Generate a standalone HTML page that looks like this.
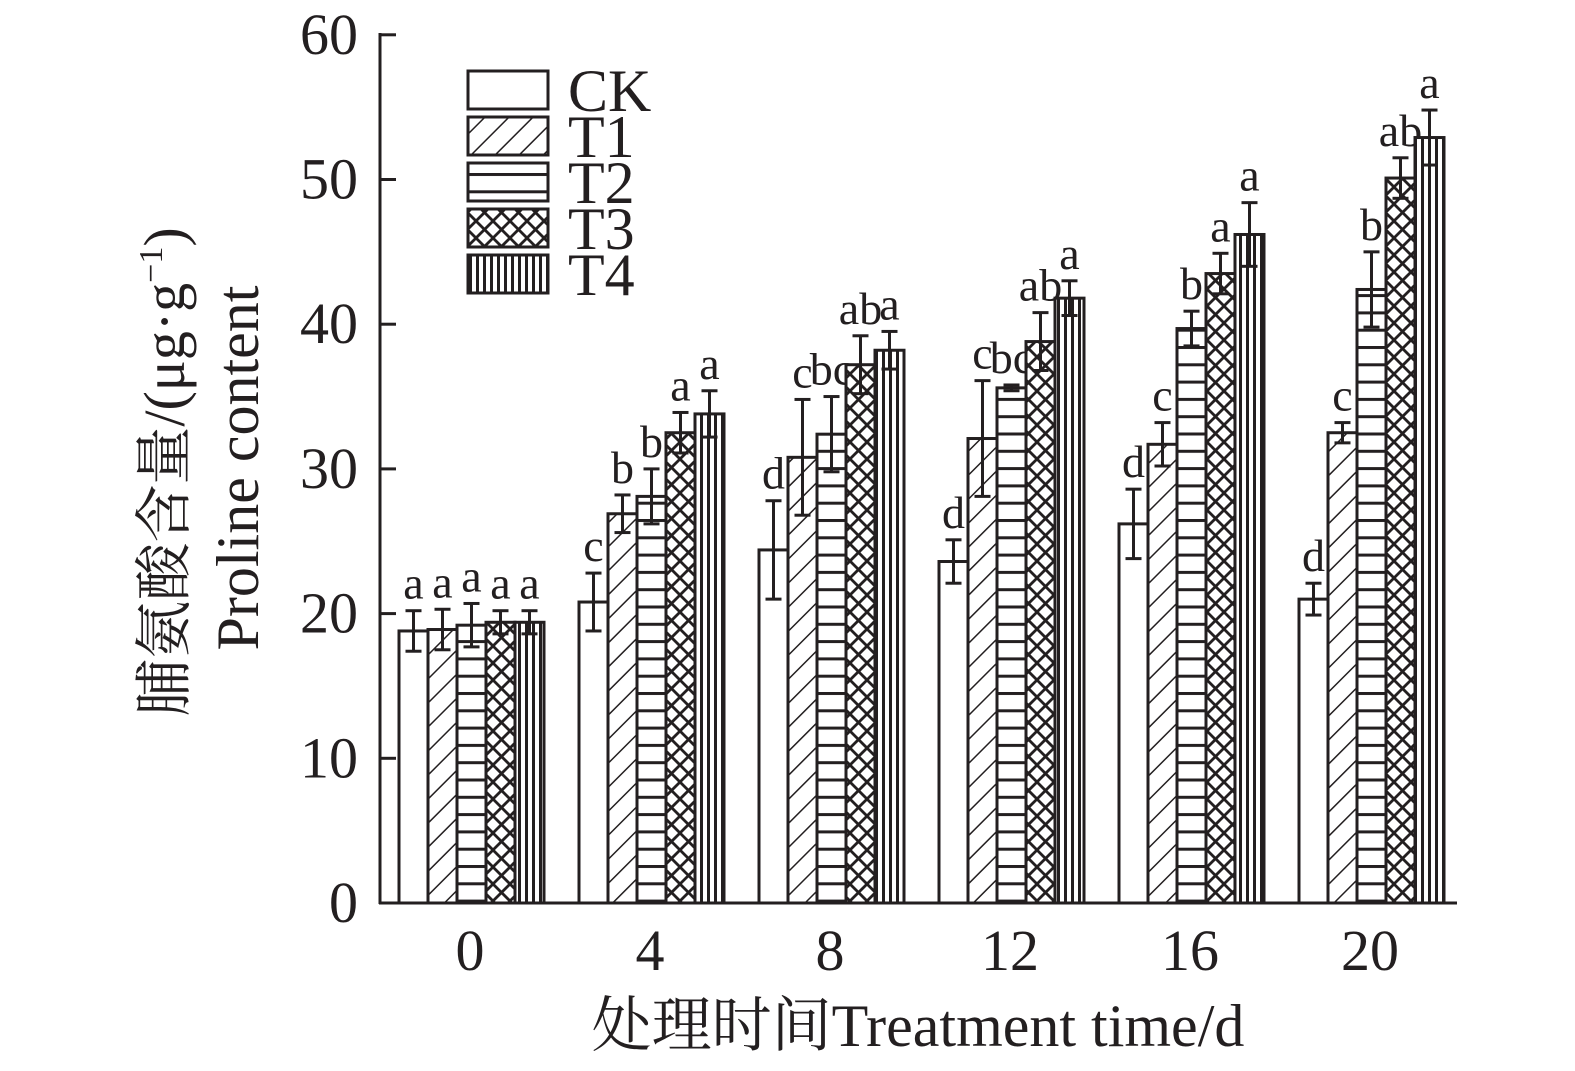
<!DOCTYPE html>
<html><head><meta charset="utf-8"><style>
html,body{margin:0;padding:0;background:#fff;}
svg{display:block;}
text{font-family:"Liberation Serif","Noto Serif CJK SC",serif;fill:#231f20;}
</style></head><body>
<svg id="s" width="1575" height="1071" viewBox="0 0 1575 1071" xmlns="http://www.w3.org/2000/svg">
<defs>
<pattern id="p1" patternUnits="userSpaceOnUse" width="17" height="17" patternTransform="rotate(45)"><line x1="0" y1="0" x2="0" y2="17" stroke="#231f20" stroke-width="3"/></pattern>
<pattern id="p2" patternUnits="userSpaceOnUse" width="10" height="17.3"><line x1="0" y1="1.5" x2="10" y2="1.5" stroke="#231f20" stroke-width="3"/></pattern>
<pattern id="p3" patternUnits="userSpaceOnUse" width="17" height="17"><line x1="0" y1="0" x2="17" y2="17" stroke="#231f20" stroke-width="2.8"/><line x1="17" y1="0" x2="0" y2="17" stroke="#231f20" stroke-width="2.8"/></pattern>
<pattern id="p4" patternUnits="userSpaceOnUse" width="7" height="10"><line x1="1.5" y1="0" x2="1.5" y2="10" stroke="#231f20" stroke-width="3"/></pattern>
</defs>
<g id="g"></g>
<text x="184" y="472" font-size="58" text-anchor="middle" transform="rotate(-90 184 472)">脯氨酸含量/(μg·g<tspan dy="-22" font-size="34">−1</tspan><tspan dy="22">)</tspan></text>
<text x="258" y="468" font-size="60" text-anchor="middle" transform="rotate(-90 258 468)">Proline content</text>
<text x="918" y="1046" font-size="60" text-anchor="middle">处理时间Treatment time/d</text>
</svg>
<script>
var g=document.getElementById('g'),h='';
function Y(v){return 903-v*14.47;}
var st='stroke="#231f20"';
h+='<line x1="380" y1="33" x2="380" y2="904" '+st+' stroke-width="3"/>';
h+='<line x1="379" y1="903" x2="1457" y2="903" '+st+' stroke-width="3"/>';
for(var i=0;i<=6;i++){var y=Y(i*10);h+='<line x1="380" y1="'+y+'" x2="396" y2="'+y+'" '+st+' stroke-width="3"/>';
h+='<text x="358" y="'+(y+19)+'" font-size="58" text-anchor="end">'+(i*10)+'</text>';}
var labs=['0','4','8','12','16','20'];
var data=[
[[18.8,1.4,'a'],[18.9,1.4,'a'],[19.2,1.5,'a'],[19.4,0.8,'a'],[19.4,0.8,'a']],
[[20.8,2,'c'],[26.9,1.3,'b'],[28.1,1.9,'b'],[32.5,1.4,'a'],[33.8,1.6,'a']],
[[24.4,3.4,'d'],[30.8,4,'c'],[32.4,2.6,'bc'],[37.2,2,'ab'],[38.2,1.3,'a']],
[[23.6,1.5,'d'],[32.1,4,'c'],[35.6,0.2,'bc'],[38.8,2,'ab'],[41.8,1.2,'a']],
[[26.2,2.4,'d'],[31.7,1.5,'c'],[39.7,1.2,'b'],[43.5,1.4,'a'],[46.2,2.2,'a']],
[[21,1.1,'d'],[32.5,0.7,'c'],[42.4,2.6,'b'],[50.1,1.4,'ab'],[52.9,1.9,'a']]];
var fills=['#fff','url(#p1)','url(#p2)','url(#p3)','url(#p4)'];
for(var k=0;k<6;k++){var x0=399+k*180;
 h+='<text x="'+(x0+71)+'" y="970" font-size="58" text-anchor="middle">'+labs[k]+'</text>';
 for(var j=0;j<5;j++){var d=data[k][j],x=x0+j*29,y=Y(d[0]);
  h+='<rect x="'+x+'" y="'+y+'" width="29" height="'+(903-y)+'" fill="#fff"/>';
  h+='<rect x="'+x+'" y="'+y+'" width="29" height="'+(903-y)+'" fill="'+fills[j]+'" '+st+' stroke-width="3"/>';
  var cx=x+14.5,yt=Y(d[0]+d[1]),yb=Y(d[0]-d[1]);
  h+='<line x1="'+cx+'" y1="'+yt+'" x2="'+cx+'" y2="'+yb+'" '+st+' stroke-width="3"/>';
  h+='<line x1="'+(cx-8)+'" y1="'+yt+'" x2="'+(cx+8)+'" y2="'+yt+'" '+st+' stroke-width="3"/>';
  h+='<line x1="'+(cx-8)+'" y1="'+yb+'" x2="'+(cx+8)+'" y2="'+yb+'" '+st+' stroke-width="3"/>';
  h+='<text x="'+cx+'" y="'+(yt-12)+'" font-size="46" text-anchor="middle">'+d[2]+'</text>';
 }}
var ln=['CK','T1','T2','T3','T4'];
for(var j=0;j<5;j++){var y=71+j*46;
 h+='<rect x="468" y="'+y+'" width="80" height="38" fill="#fff"/>';
 h+='<rect x="468" y="'+y+'" width="80" height="38" fill="'+fills[j]+'" '+st+' stroke-width="3"/>';
 h+='<text x="568" y="'+(y+40)+'" font-size="60">'+ln[j]+'</text>';}
g.innerHTML=h;
</script>
</body></html>
